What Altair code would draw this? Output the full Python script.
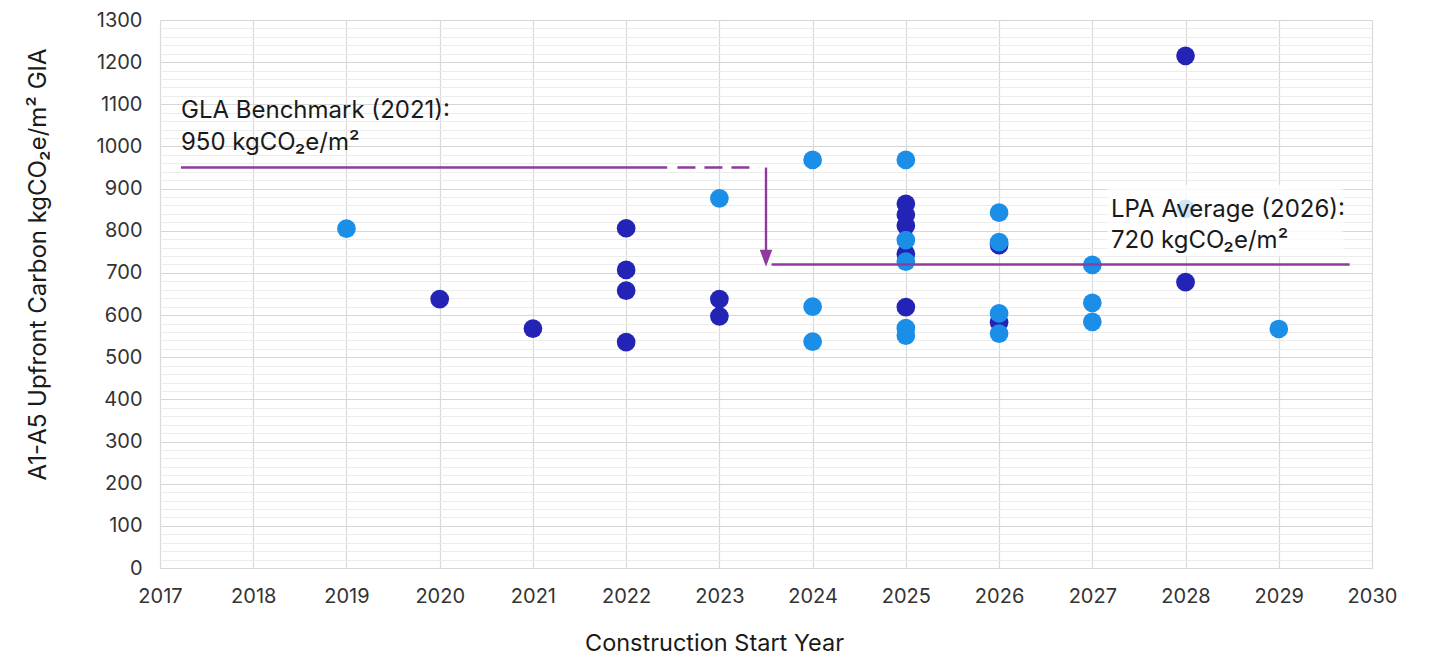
import altair as alt
import pandas as pd

# ---- data ----
dark_years = [2020, 2021, 2022, 2022, 2022, 2022, 2023, 2023, 2025, 2025, 2025, 2025, 2025, 2026, 2026, 2028, 2028]
dark_values = [638, 568, 806, 707, 658, 536, 638, 597, 864, 838, 812, 745, 619, 766, 583, 1215, 678]

light_years = [2019, 2023, 2024, 2024, 2024, 2025, 2025, 2025, 2025, 2025, 2026, 2026, 2026, 2026, 2027, 2027, 2027, 2028, 2029]
light_values = [805, 877, 968, 620, 537, 968, 778, 727, 569, 551, 843, 773, 604, 556, 719, 629, 584, 852, 567]

year_ticks = list(range(2017, 2031))
major_ticks = list(range(0, 1301, 100))
minor_ticks = list(range(0, 1301, 20))

gla_value = 950
lpa_value = 720

FONT = "Inter"
DARK = "#2323b5"
LIGHT = "#1b8ee8"
PURPLE = "#8f3b9e"

points = pd.DataFrame({
    "year": dark_years + light_years,
    "value": dark_values + light_values,
    "group": ["dark"] * len(dark_years) + ["light"] * len(light_years),
})

xscale = alt.Scale(domain=[2017, 2030], nice=False, zero=False)
yscale = alt.Scale(domain=[0, 1300], nice=False)

x_axis = alt.Axis(
    values=year_ticks, format="d", title="Construction Start Year", orient="bottom",
    grid=True, gridColor="#d9d9d9", gridWidth=1.2, domain=False, ticks=False,
    labelFont=FONT, labelFontSize=20, labelColor="#333333", labelPadding=18,
    labelBaseline="top", labelFlush=False,
    titleFont=FONT, titleFontSize=23.5, titleFontWeight="normal", titleColor="#1a1a1a",
    titleX=554, titleY=82, titleBaseline="alphabetic", titleAlign="center",
)
y_axis = alt.Axis(
    values=major_ticks, format="d", title="A1-A5 Upfront Carbon kgCO₂e/m² GIA", orient="left",
    grid=True, gridColor="#d6d6d6", gridWidth=1.2, domain=False, ticks=False,
    labelFont=FONT, labelFontSize=20, labelColor="#333333", labelPadding=18, labelFlush=False,
    titleFont=FONT, titleFontSize=24, titleFontWeight="normal", titleColor="#1a1a1a",
    titleAngle=-90, titleX=-122, titleY=244, titleBaseline="middle", titleAlign="center",
)
y_minor_axis = alt.Axis(
    values=minor_ticks, orient="left", grid=True, gridColor="#ececec", gridWidth=1,
    labels=False, ticks=False, domain=False, title=None,
)

def xa(field="x"):
    return alt.X(f"{field}:Q", scale=xscale, axis=None)

def ya(field="y"):
    return alt.Y(f"{field}:Q", scale=yscale, axis=None)

minor = alt.Chart(points).mark_point(opacity=0).encode(
    x=xa("year"),
    y=alt.Y("value:Q", scale=yscale, axis=y_minor_axis),
)

pts = alt.Chart(points).mark_circle(size=350, opacity=1).encode(
    x=alt.X("year:Q", scale=xscale, axis=x_axis),
    y=alt.Y("value:Q", scale=yscale, axis=y_axis),
    color=alt.Color("group:N", scale=alt.Scale(domain=["dark", "light"], range=[DARK, LIGHT]), legend=None),
)

# white translucent box behind LPA label
box = alt.Chart(pd.DataFrame({"x": [2027.16], "x2": [2029.69], "y": [740], "y2": [909]})).mark_rect(
    color="white", opacity=0.78
).encode(x=xa(), x2="x2:Q", y=ya(), y2="y2:Q")

solid_lines = pd.DataFrame({
    "x": [2017.225, 2023.56],
    "x2": [2022.44, 2029.76],
    "y": [gla_value, lpa_value],
})
rules = alt.Chart(solid_lines).mark_rule(color=PURPLE, strokeWidth=2.6).encode(
    x=xa(), x2="x2:Q", y=ya(),
)
dash = alt.Chart(pd.DataFrame({"x": [2022.55], "x2": [2023.42], "y": [gla_value]})).mark_rule(
    color=PURPLE, strokeWidth=2.6, strokeDash=[18, 9]
).encode(x=xa(), x2="x2:Q", y=ya())

arrow_line = alt.Chart(pd.DataFrame({"x": [2023.5], "y": [gla_value], "y2": [740]})).mark_rule(
    color=PURPLE, strokeWidth=2.4
).encode(x=xa(), y=ya(), y2="y2:Q")

arrow_head = alt.Chart(pd.DataFrame({"x": [2023.5], "y": [735]})).mark_point(
    shape="M-0.74,-1L0.74,-1L0,1Z", size=289, filled=True, color=PURPLE, opacity=1, strokeWidth=0
).encode(x=xa(), y=ya())

gla_text = alt.Chart(pd.DataFrame({"x": [2017.225], "y": [1067]})).mark_text(
    text=["GLA Benchmark (2021):", "950 kgCO₂e/m²"], align="left", baseline="alphabetic",
    font=FONT, fontSize=24, lineHeight=32, color="#1a1a1a"
).encode(x=xa(), y=ya())

lpa_text = alt.Chart(pd.DataFrame({"x": [2027.2], "y": [833]})).mark_text(
    text=["LPA Average (2026):", "720 kgCO₂e/m²"], align="left", baseline="alphabetic",
    font=FONT, fontSize=24, lineHeight=31, color="#1a1a1a"
).encode(x=xa(), y=ya())

chart = alt.layer(
    minor, pts, box, rules, dash, arrow_line, arrow_head, gla_text, lpa_text
).resolve_axis(x="independent", y="independent").properties(
    width=1212, height=548,
    padding={"left": 152, "top": 12, "right": 40, "bottom": 88},
    autosize=alt.AutoSizeParams(type="none"),
    background="white",
).configure_view(stroke=None)

chart.save("out.html", embed_options={"renderer": "svg", "actions": False})
